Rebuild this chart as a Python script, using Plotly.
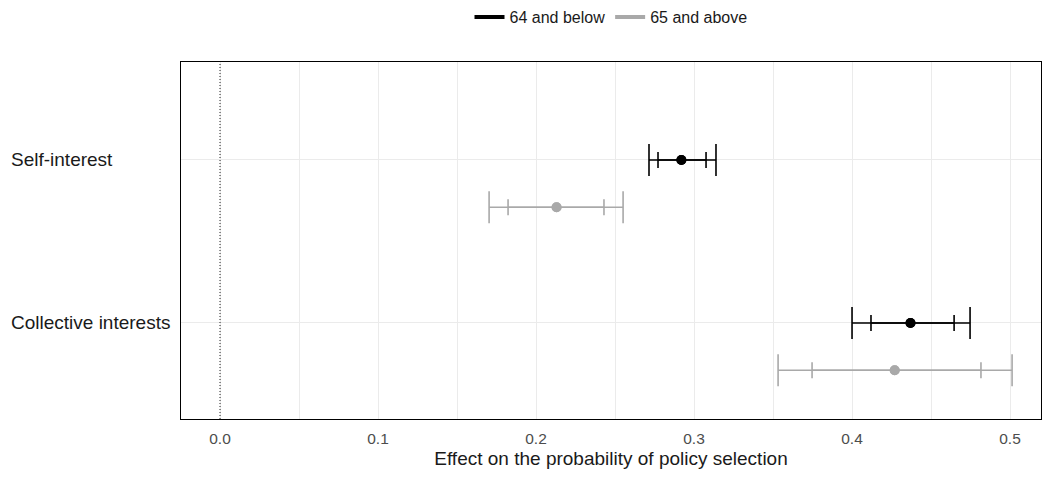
import plotly.graph_objects as go

# Category labels (top to bottom) and their positions on the y axis
categories = ["Self-interest", "Collective interests"]
cat_pos = [2, 1]

groups = ["64 and below", "65 and above"]
colors = ["#000000", "#a9a9a9"]
group_shift = [0.0, -0.29]

# Point estimates and confidence bounds per group, ordered like `categories`
estimate = {
    "64 and below": [0.292, 0.437],
    "65 and above": [0.213, 0.427],
}
ci95_low = {
    "64 and below": [0.2715, 0.400],
    "65 and above": [0.1703, 0.3532],
}
ci95_high = {
    "64 and below": [0.3139, 0.4747],
    "65 and above": [0.2551, 0.5013],
}
ci90_low = {
    "64 and below": [0.2772, 0.412],
    "65 and above": [0.1823, 0.3747],
}
ci90_high = {
    "64 and below": [0.3076, 0.4646],
    "65 and above": [0.2430, 0.4816],
}

x_ticks = [0.0, 0.1, 0.2, 0.3, 0.4, 0.5]

FONT = "Liberation Sans, Arial"

fig = go.Figure()

for g, col, dy in zip(groups, colors, group_shift):
    ys = [p + dy for p in cat_pos]
    est = estimate[g]
    # wide interval with long caps
    fig.add_trace(go.Scatter(
        x=est, y=ys, mode="markers",
        marker=dict(size=10, color=col),
        error_x=dict(type="data", symmetric=False,
                     array=[h - e for h, e in zip(ci95_high[g], est)],
                     arrayminus=[e - l for l, e in zip(ci95_low[g], est)],
                     color=col, thickness=1.6, width=16),
        showlegend=False, hoverinfo="skip"))
    # narrow interval with short caps
    fig.add_trace(go.Scatter(
        x=est, y=ys, mode="markers",
        marker=dict(size=10, color=col),
        error_x=dict(type="data", symmetric=False,
                     array=[h - e for h, e in zip(ci90_high[g], est)],
                     arrayminus=[e - l for l, e in zip(ci90_low[g], est)],
                     color=col, thickness=1.6, width=8),
        showlegend=False, hoverinfo="skip"))
    # legend key
    fig.add_trace(go.Scatter(
        x=[None], y=[None], mode="lines", name=g,
        line=dict(color=col, width=4), showlegend=True))

fig.add_vline(x=0, line=dict(color="#222222", width=1, dash="1px,2px"))

for cat, p in zip(categories, cat_pos):
    fig.add_annotation(text=cat, x=-0.2, xref="paper", y=p, yref="y",
                       xanchor="left", yanchor="middle", showarrow=False,
                       font=dict(family=FONT, size=19, color="#1a1a1a"))

fig.update_xaxes(
    range=[-0.0247, 0.5196], tickvals=x_ticks, tickformat=".1f",
    showgrid=True, gridcolor="#ebebeb", gridwidth=1, zeroline=False,
    minor=dict(dtick=0.05, tick0=0, showgrid=True, gridcolor="#ebebeb", gridwidth=1),
    showline=True, linecolor="#000000", linewidth=1, mirror=True,
    ticks="outside", ticklen=5, tickcolor="rgba(0,0,0,0)",
    tickfont=dict(family=FONT, size=15.5, color="#4d4d4d"),
    title=dict(text="Effect on the probability of policy selection",
               font=dict(family=FONT, size=19, color="#1a1a1a"),
               standoff=6),
)
fig.update_yaxes(
    range=[0.411, 2.601], tickvals=cat_pos, showticklabels=False,
    showgrid=True, gridcolor="#ebebeb", gridwidth=1, zeroline=False,
    showline=True, linecolor="#000000", linewidth=1, mirror=True,
)

fig.update_layout(
    width=1042, height=477,
    margin=dict(l=181, r=1, t=62, b=58),
    plot_bgcolor="white", paper_bgcolor="white",
    legend=dict(orientation="h", x=0.5, xanchor="center", y=1.0, yref="container",
                yanchor="top", itemwidth=30,
                font=dict(family=FONT, size=16, color="#1a1a1a")),
)

fig.write_html("out.html")
